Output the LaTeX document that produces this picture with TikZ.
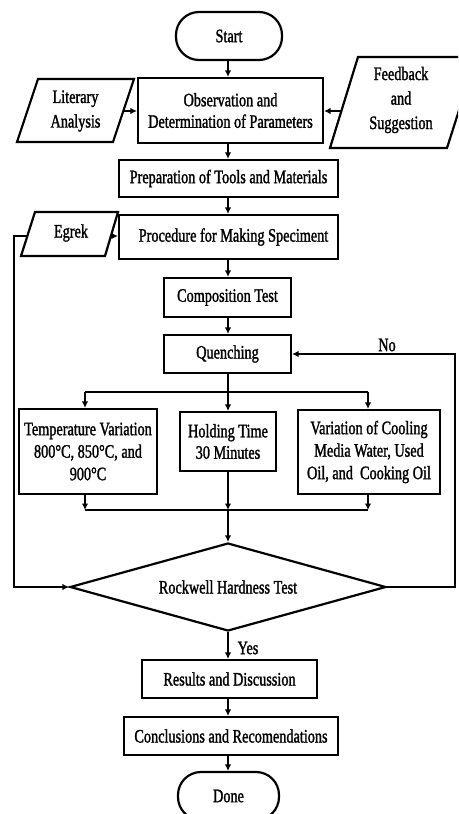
\documentclass[tikz,border=0pt]{standalone}
\usepackage{fontspec}
\setmainfont{Liberation Serif}[FakeStretch=0.75,FakeBold=1.4]
\usetikzlibrary{shapes.geometric,arrows.meta,calc}
\begin{document}
\begin{tikzpicture}[x=1pt,y=-1pt,
  every node/.style={font=\fontsize{19}{21.5}\selectfont, align=center, inner sep=0pt},
  box/.style={draw, line width=2.2pt},
  term/.style={draw, line width=2.2pt, rounded corners=23pt},
  para/.style={draw, line width=2.2pt, line join=miter},
  wide/.style={font=\fontsize{19}{24.5}\selectfont},
  three/.style={font=\fontsize{19}{22.5}\selectfont},
  line/.style={line width=2pt},
  arr/.style={line width=2pt, -{Latex[length=6.5pt,width=6.5pt]}}
]
\useasboundingbox (0,0) rectangle (458,814);
\fill[white] (0,0) rectangle (458,814);
\clip (0,0) rectangle (458,814);

% axis helpers
\coordinate (ax) at (228,0);
\coordinate (lft) at (14,0);
\coordinate (rgt) at (455,0);
\coordinate (tx) at (85,0);
\coordinate (vx) at (368,0);
\coordinate (br) at (0,392);
\coordinate (mg) at (0,510);

% nodes
\node[term, minimum width=106pt, minimum height=48pt] (start) at (229,36) {Start};
\node[box, minimum width=185pt, minimum height=65pt] (obs) at (230.5,110.5) {Observation and\\Determination of Parameters};

\draw[para] (38,79) -- (134,79) -- (113,142) -- (17,142) -- cycle;
\node[wide] (lit) at (75.5,111) {Literary\\Analysis};
\coordinate (litR) at (123.3,111);

\draw[para] (358,57) -- (476,57) -- (447,148) -- (330,148) -- cycle;
\node[wide] (fb) at (401,100) {Feedback\\and\\Suggestion};
\coordinate (fbL) at (341.4,111);

\node[box, minimum width=219pt, minimum height=37pt] (prep) at (228.5,178.5) {Preparation of Tools and Materials};
\node[box, minimum width=219pt, minimum height=44pt] (proc) at (228.5,237) {\hspace*{10pt}Procedure for Making Speciment};

\draw[para] (35,212) -- (118,212) -- (105,256) -- (21,256) -- cycle;
\node (egrek) at (71,233) {Egrek};
\coordinate (egR) at (111,236);
\coordinate (egL) at (28,236);

\node[box, minimum width=127pt, minimum height=39pt] (comp) at (227.5,297.5) {Composition Test};
\node[box, minimum width=127pt, minimum height=38pt] (quench) at (227.5,354) {Quenching};

\node[box, three, minimum width=138pt, minimum height=85pt] (temp) at (88,451.5) {Temperature Variation\\800°C, 850°C, and\\900°C};
\node[box, minimum width=96pt, minimum height=59pt] (hold) at (228,441.5) {Holding Time\\30 Minutes};
\node[box, three, minimum width=142pt, minimum height=84pt] (var) at (369,452) {Variation of Cooling\\Media Water, Used\\Oil, and~ Cooking Oil};

\node[draw, diamond, aspect=3.6, line width=2.2pt, minimum width=316pt, minimum height=88pt] (dia) at (228,587) {Rockwell Hardness Test};

\node[box, minimum width=175pt, minimum height=38pt] (res) at (229.5,679) {Results and Discussion};
\node[box, minimum width=214pt, minimum height=38pt] (conc) at (231,736) {Conclusions and Recomendations};
\node[term, minimum width=101pt, minimum height=48pt] (done) at (228.5,796) {Done};

\node (no) at (387,345) {No};
\node (yes) at (248,648) {Yes};

% connectors
\draw[arr] (ax |- start.south) -- (ax |- obs.north);
\draw[arr] (litR) -- (litR -| obs.west);
\draw[arr] (fbL) -- (fbL -| obs.east);
\draw[arr] (ax |- obs.south) -- (ax |- prep.north);
\draw[arr] (ax |- prep.south) -- (ax |- proc.north);
\draw[arr] (egR) -- (egR -| proc.west);
\draw[arr] (ax |- proc.south) -- (ax |- comp.north);
\draw[arr] (ax |- comp.south) -- (ax |- quench.north);
\draw[arr] (ax |- quench.south) -- (ax |- hold.north);
\draw[line] (tx |- br) -- (vx |- br);
\draw[arr] (tx |- br) -- (tx |- temp.north);
\draw[arr] (vx |- br) -- (vx |- var.north);
\draw[arr] (tx |- temp.south) -- (tx |- mg);
\draw[arr] (ax |- hold.south) -- (ax |- mg);
\draw[arr] (vx |- var.south) -- (vx |- mg);
\draw[line] (tx |- mg) -- (vx |- mg);
\draw[arr] (ax |- mg) -- (dia.north);
\draw[arr] (dia.south) -- (ax |- res.north);
\draw[arr] (ax |- res.south) -- (ax |- conc.north);
\draw[arr] (ax |- conc.south) -- (ax |- done.north);
\draw[arr] (dia.east) -| (rgt |- quench.east) -- (quench.east);
\draw[arr] (egL) -| (lft |- dia.west) -- (dia.west);
\end{tikzpicture}
\end{document}
